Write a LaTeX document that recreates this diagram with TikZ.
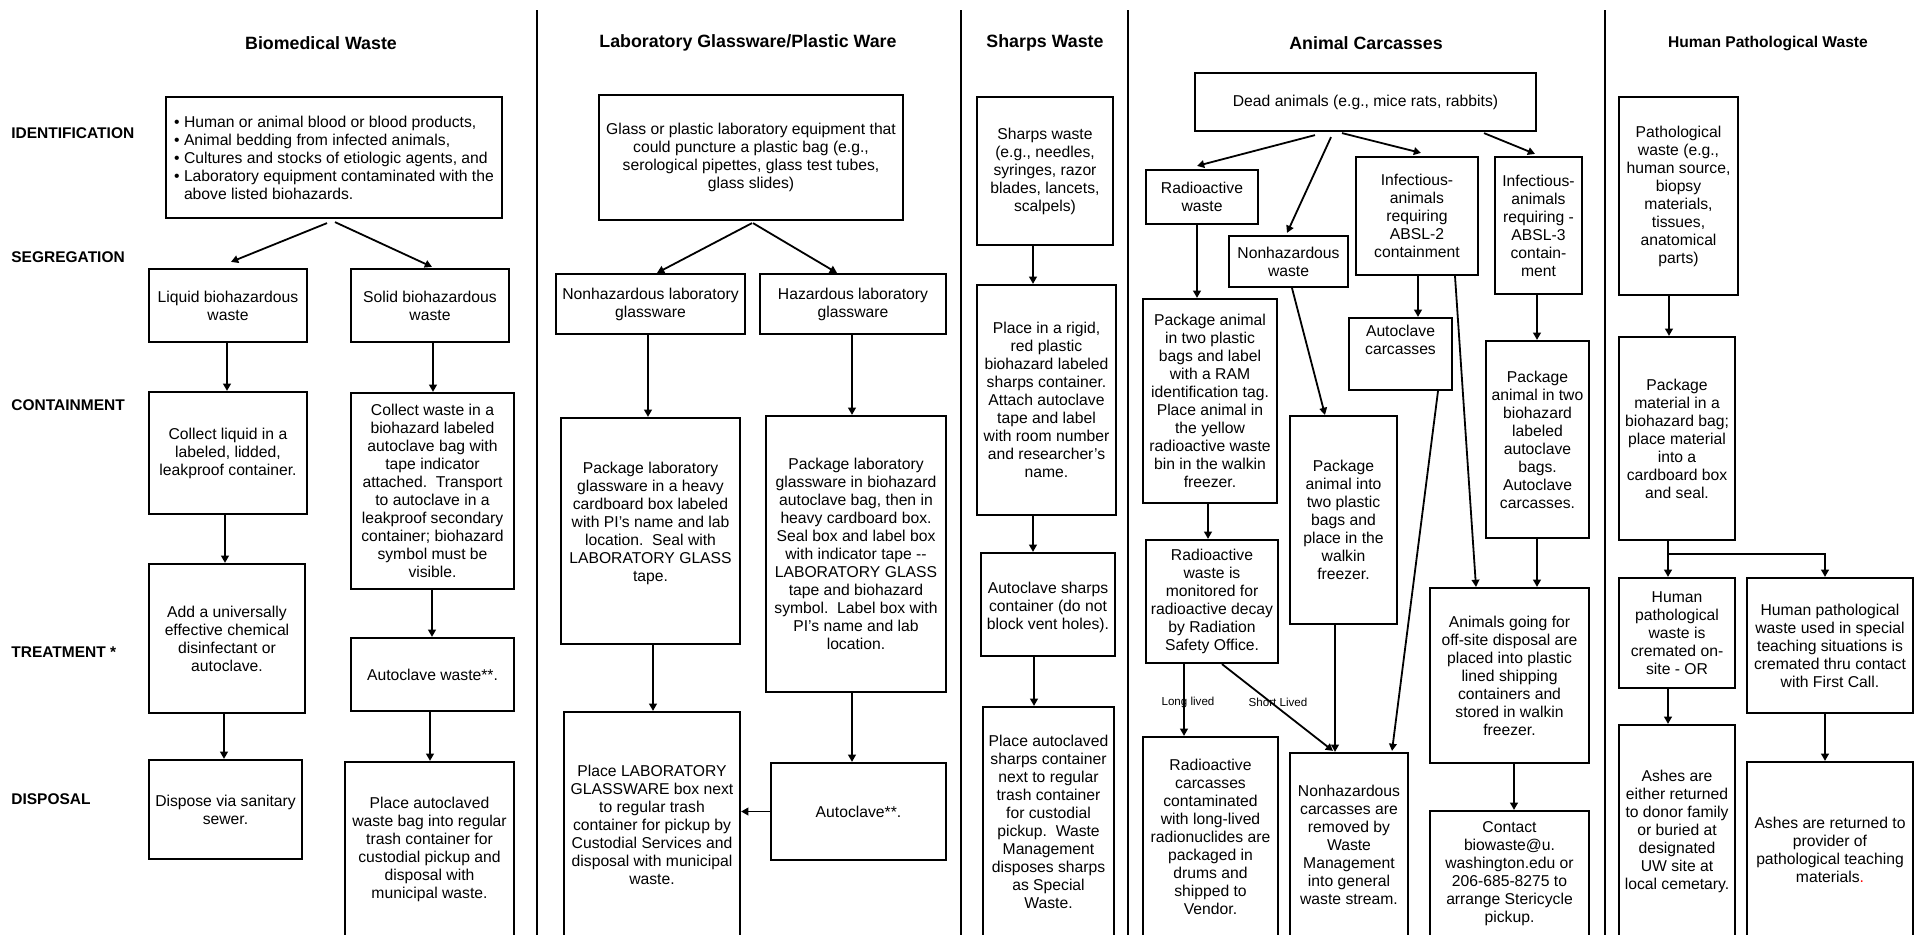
\documentclass[tikz,border=0pt]{standalone}
\usepackage{fontspec}
\setmainfont{Liberation Sans}
\usetikzlibrary{arrows.meta,calc}
\newcommand\bodyf{\fontsize{7.85}{9}\selectfont}
\newcommand\titlef{\fontsize{8.9}{10}\selectfont\bfseries}
\newcommand\titlesf{\fontsize{7.8}{9}\selectfont\bfseries}
\newcommand\stagef{\fontsize{7.75}{9}\selectfont\bfseries}
\newcommand\smallf{\fontsize{5.8}{7}\selectfont}
\tikzset{
 box/.style={draw, line width=1.1pt, inner sep=0pt, align=center, font=\bodyf},
 arr/.style={line width=0.9pt, -{Triangle[length=3.6pt,width=3.8pt]}},
 ttl/.style={font=\titlef},
 stage/.style={font=\stagef, anchor=west, inner sep=0pt},
 lbl/.style={font=\smallf},
 divider/.style={line width=1pt},
}
\newcommand\bx[7][]{%
 \pgfmathsetmacro\bxw{(#5-#3)*0.5}%
 \pgfmathsetmacro\bxh{(#6-#4)*0.5}%
 \pgfmathsetmacro\bxx{(#3+#5)/2}%
 \pgfmathsetmacro\bxy{(#4+#6)/2}%
 \node[box, minimum width=\bxw pt, minimum height=\bxh pt, #1] (#2) at (\bxx,\bxy) {#7};}
\newcommand\varr[3]{\draw[arr] (#1.south -| #3,0) -- (#2.north -| #3,0);}
\begin{document}
\begin{tikzpicture}[x=0.5pt,y=-0.5pt]
\fill[white] (0,0) rectangle (1923,934);
\useasboundingbox (0,0) rectangle (1923,934);
% dividers
\draw[divider] (537,10) -- (537,940);
\draw[divider] (961,10) -- (961,940);
\draw[divider] (1128,10) -- (1128,940);
\draw[divider] (1605,10) -- (1605,940);
% titles
\node[ttl] (t1) at (321,43) {Biomedical Waste};
\node[ttl] (t2) at (748,43) {Laboratory Glassware/Plastic Ware};
\node[ttl] (t3) at (1045,43) {Sharps Waste};
\node[ttl] (t4) at (1366,43) {Animal Carcasses};
\node[font=\titlesf] (t5) at (1768,43) {Human Pathological Waste};
% stages
\node[stage] (s1) at (11,133) {IDENTIFICATION};
\node[stage] (s2) at (11,257) {SEGREGATION};
\node[stage] (s3) at (11,405) {CONTAINMENT};
\node[stage] (s4) at (11,652) {TREATMENT *};
\node[stage] (s5) at (11,799) {DISPOSAL};
% ---- Biomedical
\bx[align=left]{b1}{166}{97}{502}{218}{\textbullet\ Human or animal blood or blood products,\\\textbullet\ Animal bedding from infected animals,\\\textbullet\ Cultures and stocks of etiologic agents, and\\\textbullet\ Laboratory equipment contaminated with the\hspace*{5pt}\\\hphantom{\textbullet\ }above listed biohazards.}
\bx{liquid}{149}{269}{307}{342}{Liquid biohazardous\\waste}
\bx{solid}{351}{269}{509}{342}{Solid biohazardous\\waste}
\bx{cl}{149}{392}{307}{514}{Collect liquid in a\\labeled, lidded,\\leakproof container.}
\bx{sc}{351}{393}{514}{589}{Collect waste in a\\biohazard labeled\\autoclave bag with\\tape indicator\\attached.\ \ Transport\\to autoclave in a\\leakproof secondary\\container; biohazard\\symbol must be\\visible.}
\bx{add}{149}{564}{305}{713}{Add a universally\\effective chemical\\disinfectant or\\autoclave.}
\bx{acw}{351}{638}{514}{711}{Autoclave waste**.}
\bx{dispose}{149}{760}{302}{859}{Dispose via sanitary\\sewer.}
\bx{pa}{345}{762}{514}{937}{Place autoclaved\\waste bag into regular\\trash container for\\custodial pickup and\\disposal with\\municipal waste.}
\draw[arr] ($(b1.south)+(-7,4)$) -- ($(liquid.north)+(3,-6)$);
\draw[arr] ($(b1.south)+(1,3)$) -- ($(solid.north)+(2,-1)$);
\varr{liquid}{cl}{227}
\varr{cl}{add}{225}
\varr{add}{dispose}{224}
\varr{solid}{sc}{433}
\varr{sc}{acw}{432}
\varr{acw}{pa}{430}
% ---- Lab glassware
\bx{glass}{599}{95}{903}{220}{Glass or plastic laboratory equipment that\\could puncture a plastic bag (e.g.,\\serological pipettes, glass test tubes,\\glass slides)}
\bx{nonhaz}{556}{274}{745}{334}{Nonhazardous laboratory\\glassware}
\bx{haz}{760}{274}{946}{334}{Hazardous laboratory\\glassware}
\bx{pkn}{561}{418}{740}{644}{Package laboratory\\glassware in a heavy\\cardboard box labeled\\with PI's name and lab\\location.\ \ Seal with\\LABORATORY GLASS\\tape.\\\mbox{}}
\bx{pkh}{766}{416}{946}{692}{Package laboratory\\glassware in biohazard\\autoclave bag, then in\\heavy cardboard box.\\Seal box and label box\\with indicator tape -{}-\\LABORATORY GLASS\\tape and biohazard\\symbol.\ \ Label box with\\PI's name and lab\\location.}
\bx{plab}{564}{712}{740}{937}{Place LABORATORY\\GLASSWARE box next\\to regular trash\\container for pickup by\\Custodial Services and\\disposal with municipal\\waste.}
\bx{acl}{771}{763}{946}{860}{Autoclave**.}
\draw[arr] ($(glass.south)+(1,2)$) -- ($(nonhaz.north)+(6.5,0)$);
\draw[arr] ($(glass.south)+(2,2)$) -- ($(haz.north)+(-16,0)$);
\varr{nonhaz}{pkn}{648}
\varr{haz}{pkh}{852}
\varr{pkn}{plab}{653}
\varr{pkh}{acl}{852}
\draw[arr] (acl.west) -- (acl.west -| plab.east);
% ---- Sharps
\bx{sh1}{977}{97}{1113}{245}{Sharps waste\\(e.g., needles,\\syringes, razor\\blades, lancets,\\scalpels)}
\bx{sh2}{977}{285}{1116}{515}{Place in a rigid,\\red plastic\\biohazard labeled\\sharps container.\\Attach autoclave\\tape and label\\with room number\\and researcher's\\name.}
\bx{sh3}{981}{553}{1115}{656}{\mbox{}\\Autoclave sharps\\container (do not\\block vent holes).}
\bx{sh4}{983}{707}{1114}{937}{Place autoclaved\\sharps container\\next to regular\\trash container\\for custodial\\pickup.\ \ Waste\\Management\\disposes sharps\\as Special\\Waste.}
\varr{sh1}{sh2}{1033}
\varr{sh2}{sh3}{1033}
\varr{sh3}{sh4}{1034}
% ---- Animal carcasses
\bx{dead}{1195}{73}{1536}{131}{Dead animals (e.g., mice rats, rabbits)}
\bx{rad}{1146}{170}{1258}{224}{Radioactive\\waste}
\bx{nonhw}{1229}{236}{1348}{287}{Nonhazardous\\waste}
\bx{absl2}{1356}{157}{1478}{275}{Infectious-\\animals\\requiring\\ABSL-2\\containment}
\bx{absl3}{1495}{157}{1582}{294}{Infectious-\\animals\\requiring -\\ABSL-3\\contain-\\ment}
\bx{pkr}{1143}{299}{1277}{503}{Package animal\\in two plastic\\bags and label\\with a RAM\\identification tag.\\Place animal in\\the yellow\\radioactive waste\\bin in the walkin\\freezer.}
\bx{acc}{1349}{318}{1452}{390}{Autoclave\\carcasses\\[5.5pt]\mbox{}}
\bx{pki}{1290}{416}{1397}{624}{Package\\animal into\\two plastic\\bags and\\place in the\\walkin\\freezer.}
\bx{pk3}{1486}{341}{1589}{538}{Package\\animal in two\\biohazard\\labeled\\autoclave\\bags.\\Autoclave\\carcasses.}
\bx{mon}{1146}{540}{1278}{663}{Radioactive\\waste is\\monitored for\\radioactive decay\\by Radiation\\Safety Office.}
\bx{ago}{1430}{588}{1589}{763}{Animals going for\\off-site disposal are\\placed into plastic\\lined shipping\\containers and\\stored in walkin\\freezer.}
\bx{rcc}{1143}{737}{1278}{937}{Radioactive\\carcasses\\contaminated\\with long-lived\\radionuclides are\\packaged in\\drums and\\shipped to\\Vendor.}
\bx{nhc}{1290}{753}{1408}{937}{Nonhazardous\\carcasses are\\removed by\\Waste\\Management\\into general\\waste stream.}
\bx{contact}{1430}{811}{1589}{937}{Contact\\biowaste@u.\\washington.edu or\\206-685-8275 to\\arrange Stericycle\\pickup.}
\draw[arr] ($(dead.south)+(-50.5,3)$) -- ($(rad.north)+(-5,-3)$);
\draw[arr] ($(dead.south)+(-34.5,5)$) -- ($(nonhw.north)+(-1.5,-2)$);
\draw[arr] ($(dead.south)+(-23.5,1)$) -- ($(absl2.north)+(4,-3)$);
\draw[arr] ($(dead.south)+(118.5,1)$) -- ($(absl3.north)+(-3.5,-2)$);
\varr{rad}{pkr}{1197}
\varr{pkr}{mon}{1208}
\varr{absl2}{acc}{1418}
\varr{absl3}{pk3}{1537}
\varr{pk3}{ago}{1537}
\varr{ago}{contact}{1514}
\varr{pki}{nhc}{1335}
\varr{mon}{rcc}{1184}
\draw[arr] ($(mon.south)+(10,0)$) -- ($(nhc.north)+(-16,-1)$);
\draw[arr] ($(nonhw.south)+(3.5,0)$) -- ($(pki.north)+(-18.5,0)$);
\draw[arr] ($(acc.south)+(37.5,0)$) -- ($(nhc.north)+(43,-1)$);
\draw[arr] ($(absl2.south)+(38,0)$) -- ($(ago.north)+(-33.5,0)$);
\node[lbl] (ll) at (1188,702) {Long lived};
\node[lbl] (sl) at (1278,702) {Short Lived};
% ---- Human pathological
\bx{path}{1619}{97}{1738}{295}{Pathological\\waste (e.g.,\\human source,\\biopsy\\materials,\\tissues,\\anatomical\\parts)}
\bx{pkm}{1619}{337}{1735}{540}{Package\\material in a\\biohazard bag;\\place material\\into a\\cardboard box\\and seal.}
\bx{crem}{1619}{578}{1735}{688}{Human\\pathological\\waste is\\cremated on-\\site - OR}
\bx{teach}{1747}{578}{1913}{713}{Human pathological\\waste used in special\\teaching situations is\\cremated thru contact\\with First Call.}
\bx{ashe}{1619}{725}{1735}{937}{Ashes are\\either returned\\to donor family\\or buried at\\designated\\UW site at\\local cemetary.}
\bx{ashr}{1747}{762}{1913}{937}{Ashes are returned to\\provider of\\pathological teaching\\materials\textcolor{red}{.}}
\varr{path}{pkm}{1669}
\varr{pkm}{crem}{1668}
\draw[arr] (pkm.south -| 1668,0) -- ++(0,13) -| (teach.north -| 1825,0);
\varr{crem}{ashe}{1668}
\varr{teach}{ashr}{1825}
\end{tikzpicture}
\end{document}
